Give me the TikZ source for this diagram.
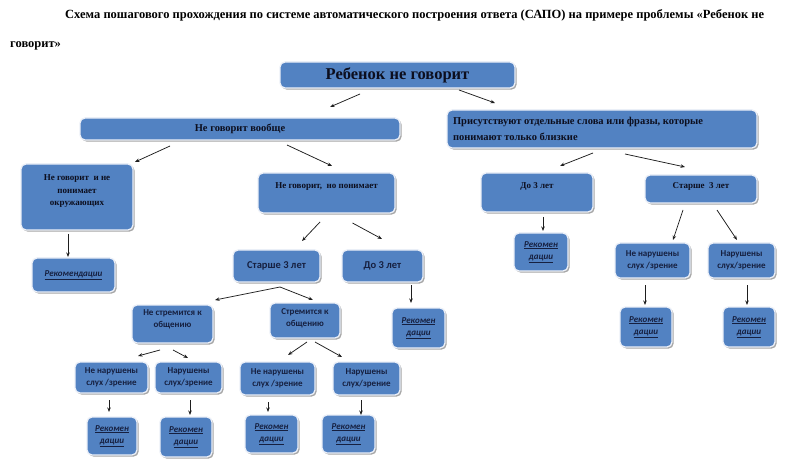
\documentclass[tikz,border=0pt]{standalone}
\usepackage{fontspec}
\setmainfont{Liberation Serif}
\newfontfamily\calfont{Carlito}
\usetikzlibrary{arrows.meta,shadows}
\definecolor{boxblue}{RGB}{82,130,194}
\definecolor{boxedge}{RGB}{236,240,248}
\definecolor{arrowc}{RGB}{30,30,30}
\definecolor{navy}{RGB}{22,32,64}
\definecolor{serifc}{RGB}{12,14,30}
\newcommand\cbox[3]{\parbox[c][#2pt][c]{#1pt}{\centering #3}}
\newcommand\tbox[4]{\parbox[c][#2pt][t]{#1pt}{\centering\vspace*{#3pt}#4}}
\newcommand\sfb[1]{{\calfont\bfseries\color{navy}#1}}
\newcommand\rek[2]{{\calfont\bfseries\itshape\color{navy}\fontsize{9}{13}\selectfont\underline{#1}\\\underline{#2}}}
\begin{document}
\begin{tikzpicture}[x=1pt,y=-1pt,
  bx/.style={anchor=north west, inner sep=0pt, outer sep=0pt, rounded corners=5pt,
    fill=boxblue, draw=boxedge, line width=1.3pt,
    drop shadow={shadow xshift=1.6pt, shadow yshift=-1.6pt, opacity=0.35, fill=black}},
  arr/.style={draw=arrowc, line width=0.75pt, -{Stealth[length=4.5pt,width=3.5pt]}},
  ttl/.style={anchor=north west, inner sep=0pt, align=left, font=\bfseries\fontsize{12.5}{29}\selectfont}
]
\useasboundingbox (0,0) rectangle (800,470);
\fill[white] (0,0) rectangle (800,470);

% title
\node[ttl] (title) at (10,9) {\hspace*{55pt}Схема пошагового прохождения по системе автоматического построения ответа (САПО) на примере проблемы «Ребенок не\\говорит»};

% level 0-1
\node[bx] (top) at (280,62) {\cbox{235}{26}{\color{serifc}\bfseries\fontsize{16.5}{18}\selectfont Ребенок не говорит}};
\node[bx] (nv) at (80,118) {\cbox{320}{22}{\color{serifc}\bfseries\fontsize{10.5}{12}\selectfont Не говорит вообще}};
\node[bx] (pr) at (447,110) {\parbox[c][38pt][c]{310pt}{\raggedright\leftskip=6pt\color{serifc}\bfseries\fontsize{10.5}{16}\selectfont Присутствуют отдельные слова или фразы, которые\\понимают только близкие}};

% level 2
\node[bx] (nn) at (21,164) {\tbox{112}{66}{11}{\color{serifc}\bfseries\fontsize{9}{12.5}\selectfont Не говорит \ и не\\понимает\\окружающих}};
\node[bx] (np) at (258,173) {\tbox{137}{40}{10}{\color{serifc}\bfseries\fontsize{9}{11}\selectfont Не говорит, \ но понимает}};
\node[bx] (d3r) at (481,173) {\tbox{112}{39}{10}{\color{serifc}\bfseries\fontsize{9}{11}\selectfont До 3 лет}};
\node[bx] (s3r) at (645,175) {\tbox{112}{28}{8}{\color{serifc}\bfseries\fontsize{9}{11}\selectfont Старше \ 3 лет}};

% left recommendation
\node[bx] (r1) at (32,258) {\cbox{83}{34}{{\calfont\bfseries\itshape\color{navy}\fontsize{9}{11}\selectfont\underline{Рекомендации}}}};

% right side
\node[bx] (rr1) at (514,233) {\cbox{54}{38}{\rek{Рекомен}{дации}}};
\node[bx] (nnr) at (615,243) {\cbox{75}{35}{\sfb{\fontsize{9}{12.5}\selectfont Не нарушены\\слух /зрение}}};
\node[bx] (nr) at (708,243) {\cbox{67}{35}{\sfb{\fontsize{9}{12.5}\selectfont Нарушены\\слух/зрение}}};
\node[bx] (rr2) at (620,307) {\cbox{52}{40}{\rek{Рекомен}{дации}}};
\node[bx] (rr3) at (723,307) {\cbox{52}{40}{\rek{Рекомен}{дации}}};

% middle
\node[bx] (s3m) at (233,250) {\cbox{87}{32}{\sfb{\fontsize{10.5}{12}\selectfont Старше 3 лет}}};
\node[bx] (d3m) at (342,250) {\cbox{81}{32}{\sfb{\fontsize{10.5}{12}\selectfont До 3 лет}}};
\node[bx] (ns) at (132,305) {\tbox{81}{38}{5}{\sfb{\fontsize{9}{12}\selectfont Не стремится к\\общению}}};
\node[bx] (st) at (270,303) {\tbox{70}{35}{6}{\sfb{\fontsize{9}{12}\selectfont Стремится к\\общению}}};
\node[bx] (rm) at (392,308) {\cbox{53}{40}{\rek{Рекомен}{дации}}};

% bottom row
\node[bx] (b1) at (75,362) {\cbox{73}{31}{\sfb{\fontsize{9}{12.5}\selectfont Не нарушены\\слух /зрение}}};
\node[bx] (b2) at (155,362) {\cbox{67}{31}{\sfb{\fontsize{9}{12.5}\selectfont Нарушены\\слух/зрение}}};
\node[bx] (b3) at (240,362) {\cbox{75}{33}{\sfb{\fontsize{9}{12.5}\selectfont Не нарушены\\слух /зрение}}};
\node[bx] (b4) at (333,362) {\cbox{67}{33}{\sfb{\fontsize{9}{12.5}\selectfont Нарушены\\слух/зрение}}};
\node[bx] (rb1) at (87,417) {\cbox{50}{38}{\rek{Рекомен}{дации}}};
\node[bx] (rb2) at (160,417) {\cbox{52}{40}{\rek{Рекомен}{дации}}};
\node[bx] (rb3) at (245,415) {\cbox{53}{38}{\rek{Рекомен}{дации}}};
\node[bx] (rb4) at (322,415) {\cbox{53}{38}{\rek{Рекомен}{дации}}};

% connectors
\draw[arr] ([shift={(-37.5,6)}]top.south) -- ([shift={(90,-11)}]nv.north);
\draw[arr] ([shift={(61.5,2)}]top.south) -- ([shift={(-107,-7)}]pr.north);
\draw[arr] ([shift={(-70,6)}]nv.south) -- ([shift={(58,-2)}]nn.north);
\draw[arr] ([shift={(47,5)}]nv.south) -- ([shift={(5.5,-7)}]np.north);
\draw[arr] ([shift={(-9,5)}]pr.south) -- ([shift={(23,-7)}]d3r.north);
\draw[arr] ([shift={(23,6)}]pr.south) -- ([shift={(-16,-8)}]s3r.north);
\draw[arr] ([shift={(-9,4)}]nn.south) -- ([shift={(-5.5,-1)}]r1.north);
\draw[arr] ([shift={(-6.5,9)}]np.south) -- ([shift={(25.5,-9)}]s3m.north);
\draw[arr] ([shift={(26,10)}]np.south) -- ([shift={(-0.5,-11)}]d3m.north);
\draw[arr] ([shift={(6,5)}]d3r.south) -- ([shift={(2,-2)}]rr1.north);
\draw[arr] ([shift={(-18,7)}]s3r.south) -- ([shift={(20.5,-3)}]nnr.north);
\draw[arr] ([shift={(16,7)}]s3r.south) -- ([shift={(-4.5,-3)}]nr.north);
\draw[arr] ([shift={(-7.5,7)}]nnr.south) -- ([shift={(-1,-2)}]rr2.north);
\draw[arr] ([shift={(5.5,7)}]nr.south) -- ([shift={(-2,-2)}]rr3.north);
\draw[arr] ([shift={(3.5,5)}]s3m.south) -- ([shift={(42.5,-5)}]ns.north);
\draw[arr] ([shift={(3.5,5)}]s3m.south) -- ([shift={(8,-3)}]st.north);
\draw[arr] ([shift={(28.5,3)}]d3m.south) -- ([shift={(-7.5,-5)}]rm.north);
\draw[arr] ([shift={(-12.5,7)}]ns.south) -- ([shift={(26.5,-6)}]b1.north);
\draw[arr] ([shift={(0.5,7)}]ns.south) -- ([shift={(-0.5,-4)}]b2.north);
\draw[arr] ([shift={(2,4)}]st.south) -- ([shift={(10.5,-7)}]b3.north);
\draw[arr] ([shift={(10,4)}]st.south) -- ([shift={(-24.5,-5)}]b4.north);
\draw[arr] ([shift={(-2.5,7)}]b1.south) -- ([shift={(-3,-5)}]rb1.north);
\draw[arr] ([shift={(1.5,7)}]b2.south) -- ([shift={(4,-2)}]rb2.north);
\draw[arr] ([shift={(-9.5,7)}]b3.south) -- ([shift={(-3.5,-3)}]rb3.north);
\draw[arr] ([shift={(-5.5,5)}]b4.south) -- ([shift={(12.5,0)}]rb4.north);
\end{tikzpicture}
\end{document}
